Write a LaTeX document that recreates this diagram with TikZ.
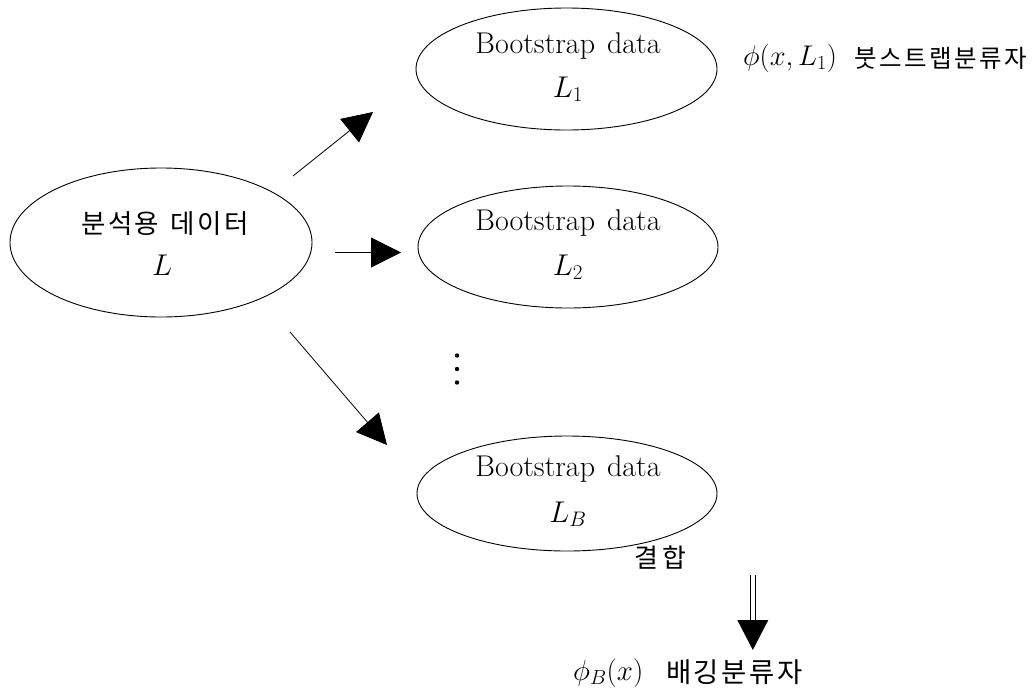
\RequirePackage{fix-cm}
\documentclass[tikz,border=0pt]{standalone}
\usepackage{fontspec}
\newfontfamily\kr{Noto Sans CJK KR}
\usetikzlibrary{shapes.geometric,arrows.meta,calc}
% letter-spaced hangul: each glyph followed by a kern of \hsp
\newdimen\hsp
\def\spaced#1{\spacedaux#1\relax}
\def\spacedaux#1{\ifx#1\relax\else#1\kern\hsp\expandafter\spacedaux\fi}
\tikzset{
  blob/.style={draw, ellipse, line width=0.9pt, inner sep=0pt},
  lbl/.style={anchor=base, inner sep=0pt, font=\fontsize{30}{33}\selectfont},
  hg/.style={inner sep=0pt, font=\kr\fontsize{26.5}{30}\selectfont},
  fat/.style={line width=0.8pt, -{Triangle[length=30pt,width=30pt]}},
}
\newcommand{\bsd}{Bootstrap\hspace{0.4em}data}
\begin{document}
\begin{tikzpicture}[x=1pt,y=-1pt]
\useasboundingbox (0,0) rectangle (1032,691);

% source data
\node[blob, minimum width=302pt, minimum height=149pt] (src) at (161,242.5) {};
\node[hg, anchor=base west] (srct) at (81,233) {\hsp=2.5pt\spaced{분석용\ 데이터}};
\node[lbl] (srcl) at (162,275) {$L$};

% bootstrap samples
\node[blob, minimum width=301pt, minimum height=122pt] (b1) at (566.5,69) {};
\node[lbl] (b1t) at (568,53) {\bsd};
\node[lbl] (b1l) at (568,97) {$L_1$};

\node[blob, minimum width=300pt, minimum height=122pt] (b2) at (568,247) {};
\node[lbl] (b2t) at (568,230) {\bsd};
\node[lbl] (b2l) at (568,275) {$L_2$};

\node[blob, minimum width=300pt, minimum height=115pt] (b3) at (567,493.5) {};
\node[lbl] (b3t) at (568,476) {\bsd};
\node[lbl] (b3l) at (568,522) {$L_B$};

% vertical ellipsis
\node[inner sep=0pt] (vd) at (457,369) {%
  \tikz[x=1pt,y=1pt]{\foreach \k in {0,1,2} \fill (0,-13.5*\k) circle (2.2pt);}};

% resampling arrows
\coordinate (a1s) at (293,176);  \coordinate (a1e) at (373,112);
\coordinate (a2s) at (335,252.5); \coordinate (a2e) at (401,252.5);
\coordinate (a3s) at (290,332);  \coordinate (a3e) at (387,445);
\draw[fat] (a1s) -- (a1e);
\draw[fat] (a2s) -- (a2e);
\draw[fat] (a3s) -- (a3e);

% labels
\node[anchor=base west, inner sep=0pt, font=\fontsize{28.5}{32}\selectfont] (phi1) at (743,65) {$\phi(x,L_1)$};
\node[hg, anchor=base west, font=\kr\fontsize{24.5}{28}\selectfont] (phi1k) at (854,67) {\hsp=2.5pt\spaced{붓스트랩분류자}};
\node[hg, anchor=base west, font=\kr\fontsize{26}{30}\selectfont] (comb) at (634,567) {\hsp=4pt\spaced{결합}};

% aggregation arrow (double shaft)
\coordinate (dtop) at (752.8,575);
\coordinate (dbase) at (752.8,620);
\coordinate (dtip) at (752.8,650);
\draw[line width=0.9pt] ($(dtop)+(-2.2,0)$) -- ($(dbase)+(-2.2,0)$);
\draw[line width=0.9pt] ($(dtop)+(2.2,0)$) -- ($(dbase)+(2.2,0)$);
\fill ($(dbase)+(-15.5,0)$) -- (dtip) -- ($(dbase)+(15.5,0)$) -- cycle;

\node[anchor=base west, inner sep=0pt, font=\fontsize{29}{32}\selectfont] (phib) at (573,680) {$\phi_B(x)$};
\node[hg, anchor=base west, font=\kr\fontsize{27.5}{30}\selectfont] (phibk) at (666,682) {\hsp=2.5pt\spaced{배깅분류자}};
\end{tikzpicture}
\end{document}
